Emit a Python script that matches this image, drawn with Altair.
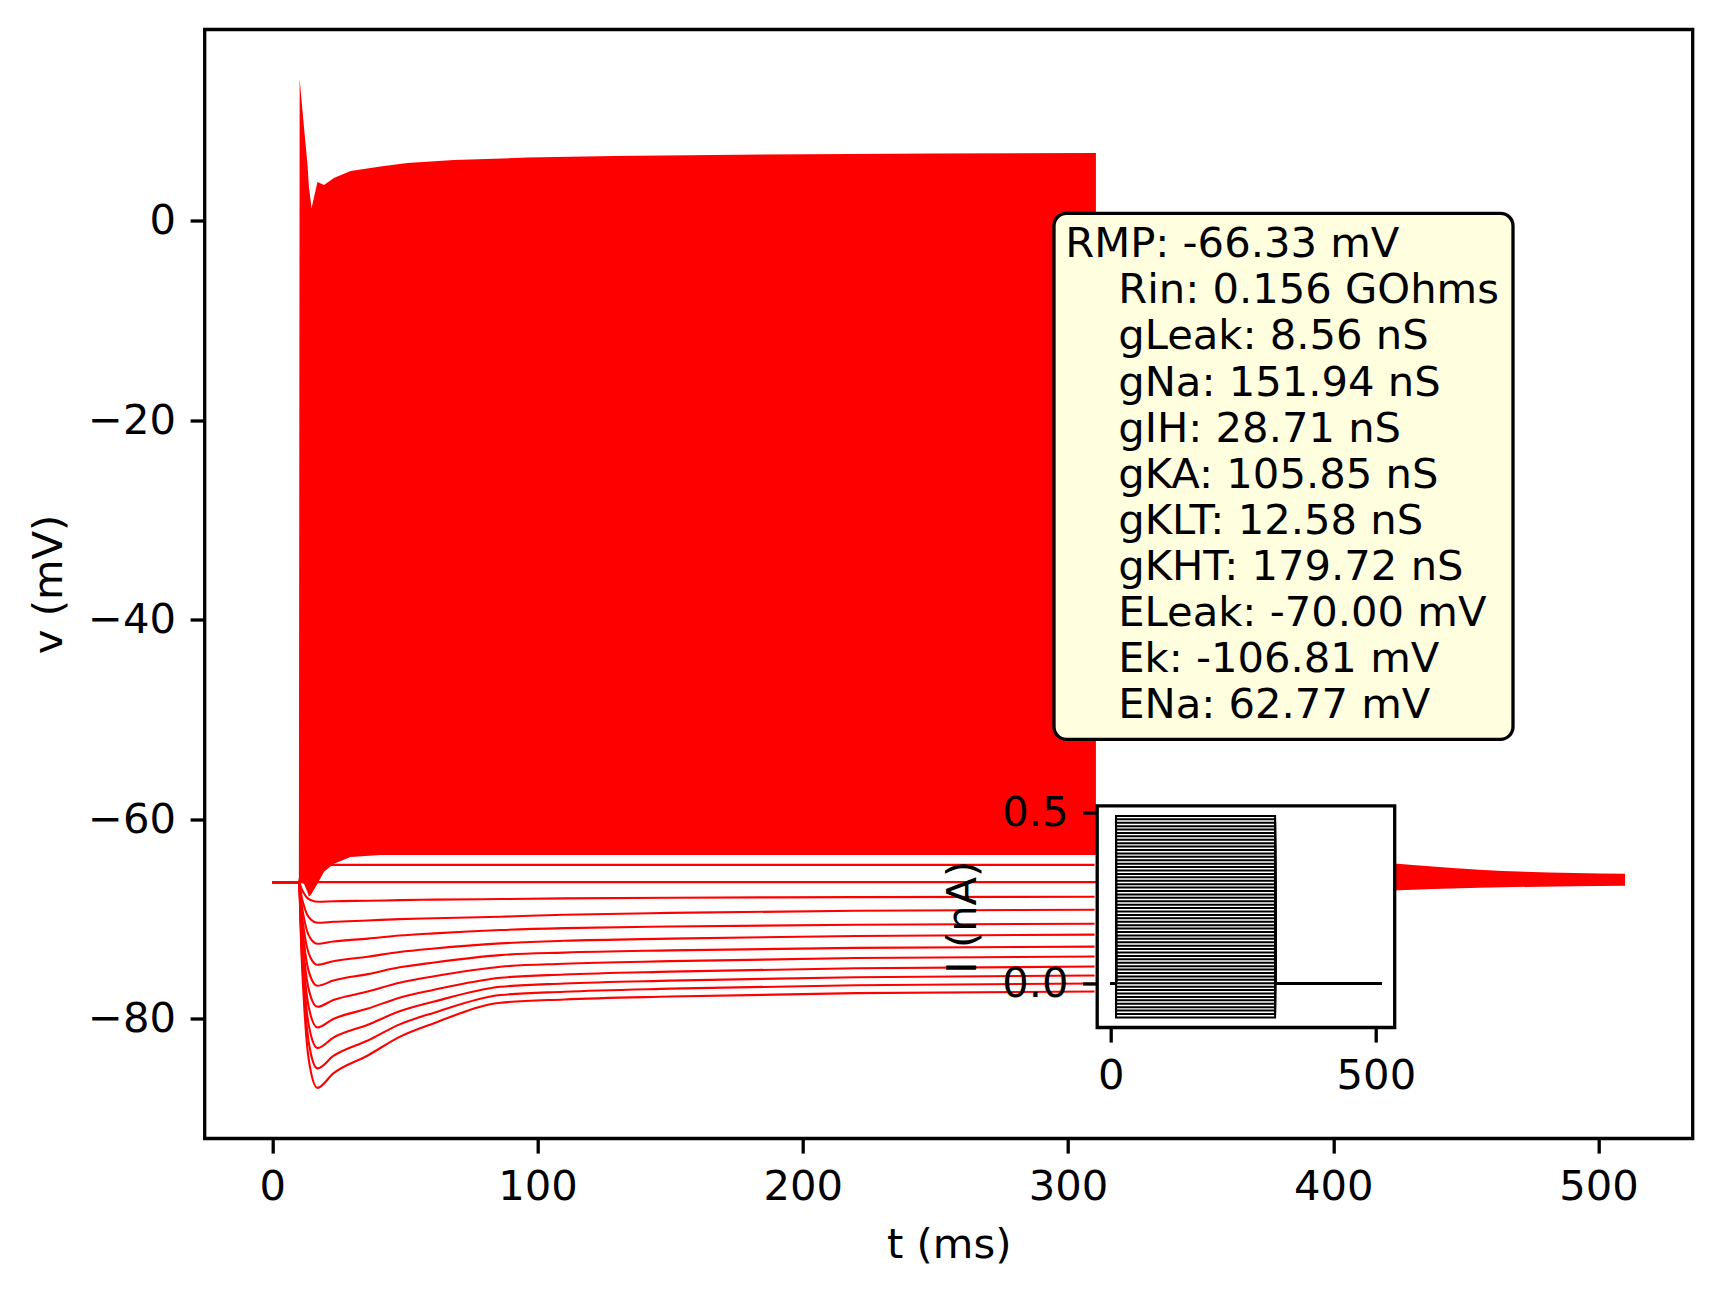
import altair as alt
import pandas as pd

# ---------------- values ----------------
x_ticks = [0, 100, 200, 300, 400, 500]
y_ticks = [-80, -60, -40, -20, 0]

# envelope of the spiking traces (depolarising steps)
spike_t = [10.0, 10.3, 11.9, 13.2, 13.8, 14.8, 17.0, 19.5, 23.2, 29.5, 40.8,
           50.9, 68.5, 96.1, 128.8, 185.3, 250.0, 310.5]
spike_top = [-66.3, 14.2, 9.5, 5.8, 3.4, 1.3, 3.9, 3.6, 4.3, 5.0, 5.45,
             5.8, 6.1, 6.35, 6.5, 6.65, 6.75, 6.8]
spike_bottom = [-66.3, -66.3, -66.5, -67.3, -67.8, -67.5, -66.5, -65.3, -64.5, -63.8, -63.6,
                -63.6, -63.6, -63.6, -63.6, -63.6, -63.6, -63.6]

# hyperpolarising steps (-0.10 ... -0.01 nA)
hyp_t = [0, 10, 11, 12, 13, 14.5, 17, 23, 36, 48, 61, 86, 110, 150, 220, 310]
hyp_v = [
    [-66.33, -66.33, -67.00, -67.50, -67.87, -68.14, -68.30, -68.25, -68.20, -68.14, -68.09, -68.03, -67.96, -67.90, -67.84, -67.80],
    [-66.33, -66.33, -67.76, -68.78, -69.51, -70.08, -70.41, -70.31, -70.18, -70.04, -69.95, -69.80, -69.60, -69.42, -69.20, -69.10],
    [-66.33, -66.33, -68.50, -70.04, -71.16, -72.03, -72.52, -72.29, -72.00, -71.69, -71.47, -71.14, -70.95, -70.79, -70.60, -70.50],
    [-66.33, -66.33, -69.23, -71.30, -72.80, -73.96, -74.62, -74.26, -73.81, -73.34, -72.99, -72.48, -72.22, -72.00, -71.73, -71.60],
    [-66.33, -66.33, -69.97, -72.57, -74.44, -75.90, -76.73, -76.21, -75.56, -74.88, -74.39, -73.65, -73.40, -73.18, -72.93, -72.80],
    [-66.33, -66.33, -70.71, -73.84, -76.09, -77.84, -78.84, -78.16, -77.31, -76.43, -75.78, -74.82, -74.52, -74.26, -73.95, -73.80],
    [-66.33, -66.33, -71.43, -75.08, -77.70, -79.74, -80.91, -80.06, -79.02, -77.92, -77.13, -75.93, -75.60, -75.31, -74.97, -74.80],
    [-66.33, -66.33, -72.16, -76.32, -79.32, -81.65, -82.98, -81.93, -80.64, -79.29, -78.31, -76.83, -76.50, -76.21, -75.87, -75.70],
    [-66.33, -66.33, -72.87, -77.54, -80.91, -83.52, -85.02, -83.77, -82.22, -80.60, -79.43, -77.66, -77.33, -77.02, -76.67, -76.50],
    [-66.33, -66.33, -73.55, -78.71, -82.43, -85.32, -86.97, -85.52, -83.72, -81.85, -80.48, -78.43, -78.10, -77.81, -77.47, -77.30],
]

# subthreshold depolarising steps
sub_t = [0, 10, 11, 12, 14, 20, 310]
sub_v = [
    [-66.33, -66.33, -65.5, -65.1, -64.8, -64.6, -64.6],
    [-66.33, -66.33, -64.9, -64.0, -63.3, -62.8, -62.8],
]

# resting trace (0 nA)
rest_t = [0, 510]
rest_v = [-66.33, -66.33]

# recovery after the step, visible right of the inset
wedge_t = [420, 455, 510]
wedge_top = [-64.4, -65.1, -65.5]
wedge_bottom = [-67.2, -66.9, -66.7]

# injected current levels (nA) and step timing for the inset
inj_levels = [-0.10, -0.09, -0.08, -0.07, -0.06, -0.05, -0.04, -0.03, -0.02, -0.01,
              0.00, 0.01, 0.02, 0.03, 0.04, 0.05, 0.06, 0.07, 0.08, 0.09,
              0.10, 0.11, 0.12, 0.13, 0.14, 0.15, 0.16, 0.17, 0.18, 0.19,
              0.20, 0.21, 0.22, 0.23, 0.24, 0.25, 0.26, 0.27, 0.28, 0.29,
              0.30, 0.31, 0.32, 0.33, 0.34, 0.35, 0.36, 0.37, 0.38, 0.39,
              0.40, 0.41, 0.42, 0.43, 0.44, 0.45, 0.46, 0.47, 0.48, 0.49]
step_t = [0, 10, 10, 310, 310, 510]
inset_x_ticks = [0, 500]
inset_y_ticks = [0.0, 0.5]

box_lines = ["RMP: -66.33 mV", "Rin: 0.156 GOhms", "gLeak: 8.56 nS", "gNa: 151.94 nS",
             "gIH: 28.71 nS", "gKA: 105.85 nS", "gKLT: 12.58 nS", "gKHT: 179.72 nS",
             "ELeak: -70.00 mV", "Ek: -106.81 mV", "ENa: 62.77 mV"]

# ---------------- tables ----------------
df_spk = pd.DataFrame({"t": spike_t, "v": spike_top, "v2": spike_bottom})
df_hyp = pd.DataFrame([{"trace": k, "t": t, "v": v}
                       for k, vs in enumerate(hyp_v) for t, v in zip(hyp_t, vs)])
df_sub = pd.DataFrame([{"trace": k, "t": t, "v": v}
                       for k, vs in enumerate(sub_v) for t, v in zip(sub_t, vs)])
df_rest = pd.DataFrame({"t": rest_t, "v": rest_v})
df_wedge = pd.DataFrame({"t": wedge_t, "v": wedge_top, "v2": wedge_bottom})
df_inj = pd.DataFrame([{"trace": k, "j": j, "ti": t, "amp": (a if j in (2, 3) else 0.0)}
                       for k, a in enumerate(inj_levels) for j, t in enumerate(step_t)])
one = pd.DataFrame({"k": [0]})

# ---------------- layout (pixels) ----------------
W, H = 1488, 1109
FONT = "DejaVu Sans"
FS = 41.7
RED = "#ff0000"
IN_L, IN_R, IN_T, IN_B = 892.5, 1190, 776.3, 998

tick_style = dict(grid=False, domain=False, tickSize=14.6, tickWidth=3.3, tickColor="black",
                  labelFontSize=FS, labelFont=FONT, labelColor="black", labelFlush=False,
                  labelOverlap=False, titleFontSize=FS, titleFont=FONT,
                  titleFontWeight="normal", titleColor="black", titlePadding=17)

x_main = alt.X("t:Q", scale=alt.Scale(domain=[-25.5, 535.5], nice=False, zero=False),
               axis=alt.Axis(values=x_ticks, format="d", title="t (ms)", labelPadding=13, **tick_style))
y_main = alt.Y("v:Q", scale=alt.Scale(domain=[-92.05, 19.2], nice=False, zero=False),
               axis=alt.Axis(values=y_ticks, format="d", title="v (mV)", labelPadding=14.6,
                             labelExpr="replace(datum.label, '-', '\u2212')", **tick_style))

spikes = alt.Chart(df_spk).mark_area(color=RED).encode(x_main, y_main, y2="v2:Q")
hyp = alt.Chart(df_hyp).mark_line(color=RED, strokeWidth=2.1, interpolate="monotone").encode(
    x_main, y_main, detail="trace:N", order="t:Q")
sub = alt.Chart(df_sub).mark_line(color=RED, strokeWidth=2.1, interpolate="monotone").encode(
    x_main, y_main, detail="trace:N", order="t:Q")
rest = alt.Chart(df_rest).mark_line(color=RED, strokeWidth=2.1).encode(x_main, y_main)
wedge = alt.Chart(df_wedge).mark_area(color=RED, interpolate="monotone").encode(x_main, y_main, y2="v2:Q")

box = alt.Chart(one).mark_rect(fill="#ffffe0", stroke="black", strokeWidth=3.3,
                               cornerRadius=12.5).encode(
    x=alt.value(849.3), x2=alt.value(1308.3), y=alt.value(183.8), y2=alt.value(709.8))
txt_first = alt.Chart(one).mark_text(text=box_lines[0], align="left", baseline="alphabetic",
                                     font=FONT, fontSize=FS, color="black").encode(
    x=alt.value(860.5), y=alt.value(227.8))
txt_rest = alt.Chart(one).mark_text(text=box_lines[1:], align="left", baseline="alphabetic",
                                    lineHeight=46.1, font=FONT, fontSize=FS, color="black").encode(
    x=alt.value(913.5), y=alt.value(273.9))

main = alt.layer(spikes, hyp, sub, rest, wedge, box, txt_first, txt_rest)

# ---------------- inset: injected current ----------------
x_in = alt.X("ti:Q", scale=alt.Scale(domain=[-25.5, 535.5], range=[IN_L, IN_R], nice=False, zero=False),
             axis=alt.Axis(orient="bottom", offset=-(H - IN_B), values=inset_x_ticks, format="d",
                           title=None, labelPadding=13, zindex=1, **tick_style))
y_in = alt.Y("amp:Q", scale=alt.Scale(domain=[-0.1295, 0.5195], range=[IN_B, IN_T], nice=False, zero=False),
             axis=alt.Axis(orient="left", offset=-IN_L, values=inset_y_ticks, format=".1f",
                           title="I (nA)", labelPadding=14.6, zindex=1, **tick_style))

inset_bg = alt.Chart(one).mark_rect(fill="white", stroke="black", strokeWidth=3.3).encode(
    x=alt.value(IN_L), x2=alt.value(IN_R), y=alt.value(IN_T), y2=alt.value(IN_B))
inset_lines = alt.Chart(df_inj).mark_line(color="black", strokeWidth=2.0).encode(
    x_in, y_in, detail="trace:N", order="j:Q")

inset = alt.layer(inset_bg, inset_lines)

chart = alt.layer(main, inset).resolve_scale(x="independent", y="independent").properties(
    width=W, height=H, autosize="none",
    padding={"left": 196.7, "top": 21.5, "right": 20.3, "bottom": 147.5},
).configure_view(stroke="black", strokeWidth=3.3)

chart.save("out.html", embed_options={"renderer": "svg", "actions": False})
